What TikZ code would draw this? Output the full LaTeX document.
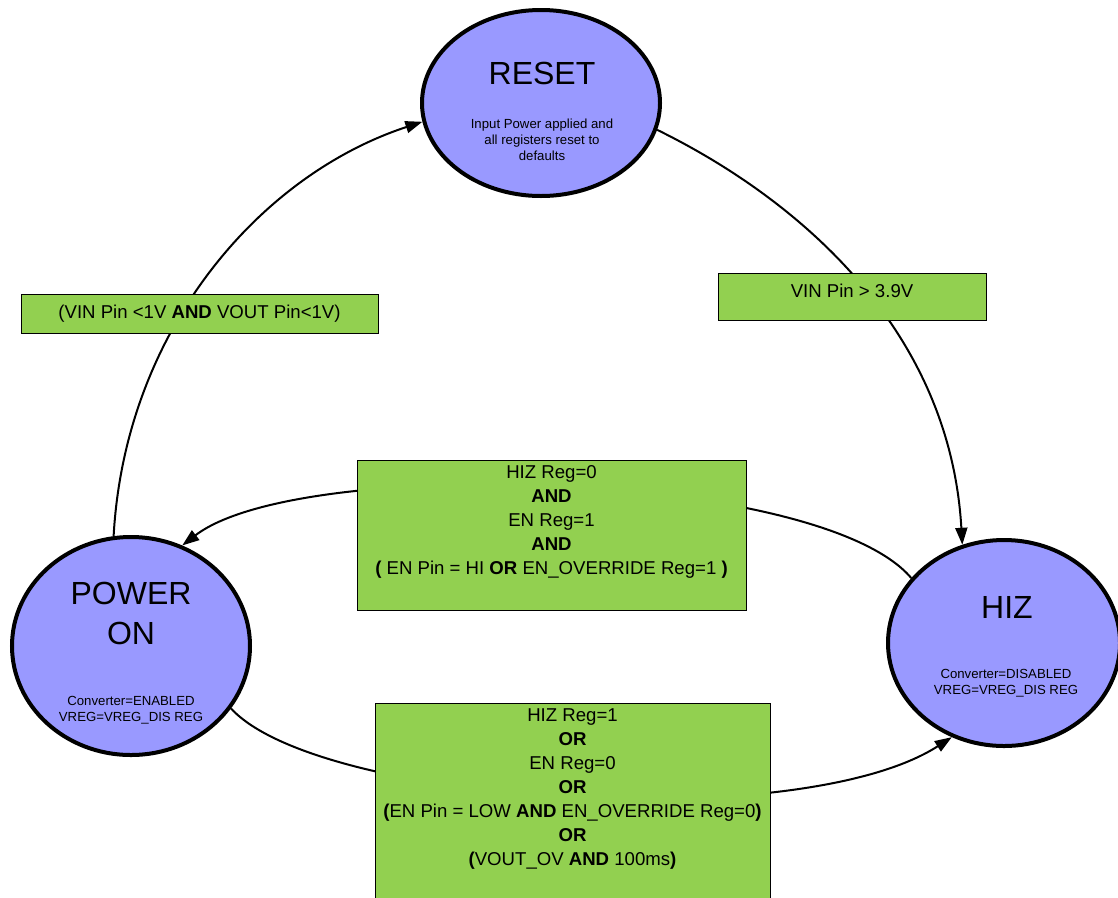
\documentclass[tikz,border=0pt]{standalone}
\usepackage{fontspec}
\setmainfont{Liberation Sans}
\usetikzlibrary{arrows.meta,shapes.geometric,backgrounds}
\definecolor{statefill}{HTML}{9999FF}
\definecolor{condfill}{HTML}{92D050}
\begin{document}
\begin{tikzpicture}[x=1pt,y=-1pt,
 state/.style={ellipse, draw=black, line width=4pt, fill=statefill, inner sep=0pt},
 cond/.style={rectangle, draw=black, line width=0.8pt, fill=condfill, inner sep=0pt, font=\fontsize{18.6}{24}\selectfont},
 condtext/.style={align=center, font=\fontsize{18.6}{24}\selectfont, inner sep=0pt},
 titletext/.style={align=center, font=\fontsize{32}{40}\selectfont, inner sep=0pt},
 notetext/.style={align=center, font=\fontsize{13.2}{16}\selectfont, inner sep=0pt},
 conn/.style={line width=2pt, -{Triangle[length=17pt,width=12pt]}}]
\useasboundingbox (0,0) rectangle (1118,897);

% states
\node[state, minimum width=238pt, minimum height=186pt] (reset) at (541,103) {};
\node[state, minimum width=238pt, minimum height=218pt] (power) at (131,646) {};
\node[state, minimum width=232pt, minimum height=206pt] (hiz) at (1004,643) {};

\node[titletext] (resettitle) at (542,73) {RESET};
\node[notetext] (resetnote) at (542,140) {Input Power applied and\\all registers reset to\\defaults};
\node[titletext] (powertitle) at (131,613) {POWER\\ON};
\node[notetext] (powernote) at (131,710) {Converter=ENABLED\\VREG=VREG\_DIS REG};
\node[titletext] (hiztitle) at (1007,607) {HIZ};
\node[notetext] (hiznote) at (1006,683) {Converter=DISABLED\\VREG=VREG\_DIS REG};

% condition boxes
\node[cond, minimum width=357pt, minimum height=39pt] (offbox) at (199.5,313.5) {(VIN Pin <1V \textbf{AND} VOUT Pin<1V)};
\node[cond, minimum width=268pt, minimum height=47pt] (vinbox) at (852,296.5) {};
\node[condtext] (vintext) at (852,291) {VIN Pin > 3.9V};

\node[cond, minimum width=389pt, minimum height=150pt] (enbox) at (551.5,535) {};
\node[condtext] (entext) at (551.5,522) {HIZ Reg=0\\\textbf{AND}\\EN Reg=1\\\textbf{AND}\\\textbf{(} EN Pin = HI \textbf{OR} EN\_OVERRIDE Reg=1 \textbf{)}};

\node[cond, minimum width=395pt, minimum height=210pt, anchor=north] (disbox) at (572.5,703) {};
\node[condtext] (distext) at (572.5,789) {HIZ Reg=1\\\textbf{OR}\\EN Reg=0\\\textbf{OR}\\\textbf{(}EN Pin = LOW \textbf{AND} EN\_OVERRIDE Reg=0\textbf{)}\\\textbf{OR}\\\textbf{(}VOUT\_OV \textbf{AND} 100ms\textbf{)}};

% connectors
\begin{scope}[on background layer]
\draw[conn] (power.99) .. controls (125,330) and (260,175) .. (reset.189);
\draw[conn] (reset.347) .. controls (800,200) and (950,330) .. (hiz.113);
\draw[conn] (hiz.145) .. controls (820,470) and (300,455) .. (power.63);
\draw[conn] (power.328) .. controls (320,805) and (800,835) .. (hiz.241);
\end{scope}
\end{tikzpicture}
\end{document}
